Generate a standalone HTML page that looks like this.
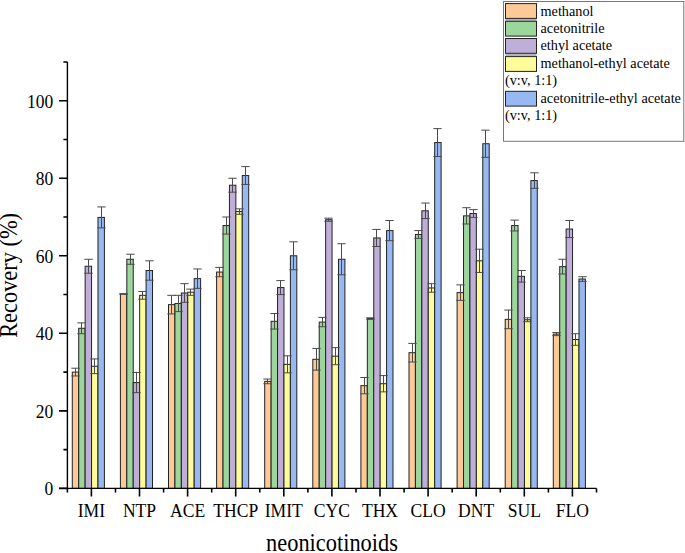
<!DOCTYPE html><html><head><meta charset="utf-8"><style>html,body{margin:0;padding:0;background:#fff;}svg{display:block;}text{font-family:"Liberation Serif",serif;fill:#000;}</style></head><body>
<svg width="685" height="553" viewBox="0 0 685 553">
<rect width="685" height="553" fill="#fff"/>
<rect x="72.30" y="372.09" width="6.42" height="116.31" fill="#FCC997" stroke="#222" stroke-width="1"/>
<rect x="78.72" y="328.28" width="6.42" height="160.12" fill="#9DD69C" stroke="#222" stroke-width="1"/>
<rect x="85.14" y="266.25" width="6.42" height="222.15" fill="#BFAED8" stroke="#222" stroke-width="1"/>
<rect x="91.56" y="366.27" width="6.42" height="122.13" fill="#FEFB9A" stroke="#222" stroke-width="1"/>
<rect x="97.98" y="217.40" width="6.42" height="271.00" fill="#98B8F2" stroke="#222" stroke-width="1"/>
<rect x="120.40" y="293.97" width="6.42" height="194.43" fill="#FCC997" stroke="#222" stroke-width="1"/>
<rect x="126.82" y="259.27" width="6.42" height="229.13" fill="#9DD69C" stroke="#222" stroke-width="1"/>
<rect x="133.24" y="382.56" width="6.42" height="105.84" fill="#BFAED8" stroke="#222" stroke-width="1"/>
<rect x="139.66" y="295.33" width="6.42" height="193.07" fill="#FEFB9A" stroke="#222" stroke-width="1"/>
<rect x="146.08" y="270.51" width="6.42" height="217.89" fill="#98B8F2" stroke="#222" stroke-width="1"/>
<rect x="168.50" y="304.63" width="6.42" height="183.77" fill="#FCC997" stroke="#222" stroke-width="1"/>
<rect x="174.92" y="303.47" width="6.42" height="184.93" fill="#9DD69C" stroke="#222" stroke-width="1"/>
<rect x="181.34" y="293.00" width="6.42" height="195.40" fill="#BFAED8" stroke="#222" stroke-width="1"/>
<rect x="187.76" y="292.22" width="6.42" height="196.18" fill="#FEFB9A" stroke="#222" stroke-width="1"/>
<rect x="194.18" y="278.65" width="6.42" height="209.75" fill="#98B8F2" stroke="#222" stroke-width="1"/>
<rect x="216.60" y="272.06" width="6.42" height="216.34" fill="#FCC997" stroke="#222" stroke-width="1"/>
<rect x="223.02" y="225.54" width="6.42" height="262.86" fill="#9DD69C" stroke="#222" stroke-width="1"/>
<rect x="229.44" y="185.22" width="6.42" height="303.18" fill="#BFAED8" stroke="#222" stroke-width="1"/>
<rect x="235.86" y="211.58" width="6.42" height="276.82" fill="#FEFB9A" stroke="#222" stroke-width="1"/>
<rect x="242.28" y="175.53" width="6.42" height="312.87" fill="#98B8F2" stroke="#222" stroke-width="1"/>
<rect x="264.70" y="381.39" width="6.42" height="107.01" fill="#FCC997" stroke="#222" stroke-width="1"/>
<rect x="271.12" y="321.30" width="6.42" height="167.10" fill="#9DD69C" stroke="#222" stroke-width="1"/>
<rect x="277.54" y="287.57" width="6.42" height="200.83" fill="#BFAED8" stroke="#222" stroke-width="1"/>
<rect x="283.96" y="364.34" width="6.42" height="124.06" fill="#FEFB9A" stroke="#222" stroke-width="1"/>
<rect x="290.38" y="255.78" width="6.42" height="232.62" fill="#98B8F2" stroke="#222" stroke-width="1"/>
<rect x="312.80" y="359.30" width="6.42" height="129.10" fill="#FCC997" stroke="#222" stroke-width="1"/>
<rect x="319.22" y="322.08" width="6.42" height="166.32" fill="#9DD69C" stroke="#222" stroke-width="1"/>
<rect x="325.64" y="219.72" width="6.42" height="268.68" fill="#BFAED8" stroke="#222" stroke-width="1"/>
<rect x="332.06" y="356.19" width="6.42" height="132.21" fill="#FEFB9A" stroke="#222" stroke-width="1"/>
<rect x="338.48" y="259.27" width="6.42" height="229.13" fill="#98B8F2" stroke="#222" stroke-width="1"/>
<rect x="360.90" y="385.66" width="6.42" height="102.74" fill="#FCC997" stroke="#222" stroke-width="1"/>
<rect x="367.32" y="318.59" width="6.42" height="169.81" fill="#9DD69C" stroke="#222" stroke-width="1"/>
<rect x="373.74" y="237.95" width="6.42" height="250.45" fill="#BFAED8" stroke="#222" stroke-width="1"/>
<rect x="380.16" y="383.72" width="6.42" height="104.68" fill="#FEFB9A" stroke="#222" stroke-width="1"/>
<rect x="386.58" y="230.58" width="6.42" height="257.82" fill="#98B8F2" stroke="#222" stroke-width="1"/>
<rect x="409.00" y="352.70" width="6.42" height="135.69" fill="#FCC997" stroke="#222" stroke-width="1"/>
<rect x="415.42" y="234.46" width="6.42" height="253.94" fill="#9DD69C" stroke="#222" stroke-width="1"/>
<rect x="421.84" y="210.81" width="6.42" height="277.59" fill="#BFAED8" stroke="#222" stroke-width="1"/>
<rect x="428.26" y="287.96" width="6.42" height="200.44" fill="#FEFB9A" stroke="#222" stroke-width="1"/>
<rect x="434.68" y="142.57" width="6.42" height="345.83" fill="#98B8F2" stroke="#222" stroke-width="1"/>
<rect x="457.10" y="292.61" width="6.42" height="195.79" fill="#FCC997" stroke="#222" stroke-width="1"/>
<rect x="463.52" y="215.85" width="6.42" height="272.55" fill="#9DD69C" stroke="#222" stroke-width="1"/>
<rect x="469.94" y="213.52" width="6.42" height="274.88" fill="#BFAED8" stroke="#222" stroke-width="1"/>
<rect x="476.36" y="260.82" width="6.42" height="227.58" fill="#FEFB9A" stroke="#222" stroke-width="1"/>
<rect x="482.78" y="143.73" width="6.42" height="344.67" fill="#98B8F2" stroke="#222" stroke-width="1"/>
<rect x="505.20" y="319.36" width="6.42" height="169.04" fill="#FCC997" stroke="#222" stroke-width="1"/>
<rect x="511.62" y="225.54" width="6.42" height="262.86" fill="#9DD69C" stroke="#222" stroke-width="1"/>
<rect x="518.04" y="276.33" width="6.42" height="212.07" fill="#BFAED8" stroke="#222" stroke-width="1"/>
<rect x="524.46" y="319.75" width="6.42" height="168.65" fill="#FEFB9A" stroke="#222" stroke-width="1"/>
<rect x="530.88" y="180.57" width="6.42" height="307.83" fill="#98B8F2" stroke="#222" stroke-width="1"/>
<rect x="553.30" y="334.10" width="6.42" height="154.30" fill="#FCC997" stroke="#222" stroke-width="1"/>
<rect x="559.72" y="266.64" width="6.42" height="221.76" fill="#9DD69C" stroke="#222" stroke-width="1"/>
<rect x="566.14" y="229.03" width="6.42" height="259.37" fill="#BFAED8" stroke="#222" stroke-width="1"/>
<rect x="572.56" y="339.52" width="6.42" height="148.88" fill="#FEFB9A" stroke="#222" stroke-width="1"/>
<rect x="578.98" y="279.04" width="6.42" height="209.36" fill="#98B8F2" stroke="#222" stroke-width="1"/>
<path d="M75.50 368.21V375.97M71.30 368.21H79.70M71.30 375.97H79.70" stroke="#4a4a4a" stroke-width="1" fill="none"/>
<path d="M81.50 322.85V333.71M77.30 322.85H85.70M77.30 333.71H85.70" stroke="#4a4a4a" stroke-width="1" fill="none"/>
<path d="M88.50 259.27V273.23M84.30 259.27H92.70M84.30 273.23H92.70" stroke="#4a4a4a" stroke-width="1" fill="none"/>
<path d="M94.50 358.91V373.64M90.30 358.91H98.70M90.30 373.64H98.70" stroke="#4a4a4a" stroke-width="1" fill="none"/>
<path d="M101.50 206.93V227.87M97.30 206.93H105.70M97.30 227.87H105.70" stroke="#4a4a4a" stroke-width="1" fill="none"/>
<path d="M123.50 293.97V293.97M119.30 293.97H127.70M119.30 293.97H127.70" stroke="#4a4a4a" stroke-width="1" fill="none"/>
<path d="M130.50 254.23V264.31M126.30 254.23H134.70M126.30 264.31H134.70" stroke="#4a4a4a" stroke-width="1" fill="none"/>
<path d="M136.50 372.48V392.64M132.30 372.48H140.70M132.30 392.64H140.70" stroke="#4a4a4a" stroke-width="1" fill="none"/>
<path d="M142.50 291.45V299.20M138.30 291.45H146.70M138.30 299.20H146.70" stroke="#4a4a4a" stroke-width="1" fill="none"/>
<path d="M149.50 260.82V280.21M145.30 260.82H153.70M145.30 280.21H153.70" stroke="#4a4a4a" stroke-width="1" fill="none"/>
<path d="M171.50 295.33V313.93M167.30 295.33H175.70M167.30 313.93H175.70" stroke="#4a4a4a" stroke-width="1" fill="none"/>
<path d="M178.50 295.33V311.61M174.30 295.33H182.70M174.30 311.61H182.70" stroke="#4a4a4a" stroke-width="1" fill="none"/>
<path d="M184.50 283.69V302.30M180.30 283.69H188.70M180.30 302.30H188.70" stroke="#4a4a4a" stroke-width="1" fill="none"/>
<path d="M190.50 289.12V295.33M186.30 289.12H194.70M186.30 295.33H194.70" stroke="#4a4a4a" stroke-width="1" fill="none"/>
<path d="M197.50 268.96V288.35M193.30 268.96H201.70M193.30 288.35H201.70" stroke="#4a4a4a" stroke-width="1" fill="none"/>
<path d="M219.50 267.41V276.72M215.30 267.41H223.70M215.30 276.72H223.70" stroke="#4a4a4a" stroke-width="1" fill="none"/>
<path d="M226.50 217.01V234.07M222.30 217.01H230.70M222.30 234.07H230.70" stroke="#4a4a4a" stroke-width="1" fill="none"/>
<path d="M232.50 178.24V192.20M228.30 178.24H236.70M228.30 192.20H236.70" stroke="#4a4a4a" stroke-width="1" fill="none"/>
<path d="M239.50 208.87V214.30M235.30 208.87H243.70M235.30 214.30H243.70" stroke="#4a4a4a" stroke-width="1" fill="none"/>
<path d="M245.50 166.61V184.44M241.30 166.61H249.70M241.30 184.44H249.70" stroke="#4a4a4a" stroke-width="1" fill="none"/>
<path d="M267.50 379.07V383.72M263.30 379.07H271.70M263.30 383.72H271.70" stroke="#4a4a4a" stroke-width="1" fill="none"/>
<path d="M274.50 313.55V329.06M270.30 313.55H278.70M270.30 329.06H278.70" stroke="#4a4a4a" stroke-width="1" fill="none"/>
<path d="M280.50 280.59V294.55M276.30 280.59H284.70M276.30 294.55H284.70" stroke="#4a4a4a" stroke-width="1" fill="none"/>
<path d="M287.50 355.81V372.87M283.30 355.81H291.70M283.30 372.87H291.70" stroke="#4a4a4a" stroke-width="1" fill="none"/>
<path d="M293.50 241.82V269.74M289.30 241.82H297.70M289.30 269.74H297.70" stroke="#4a4a4a" stroke-width="1" fill="none"/>
<path d="M316.50 348.44V370.15M312.30 348.44H320.70M312.30 370.15H320.70" stroke="#4a4a4a" stroke-width="1" fill="none"/>
<path d="M322.50 317.42V326.73M318.30 317.42H326.70M318.30 326.73H326.70" stroke="#4a4a4a" stroke-width="1" fill="none"/>
<path d="M328.50 218.17V221.27M324.30 218.17H332.70M324.30 221.27H332.70" stroke="#4a4a4a" stroke-width="1" fill="none"/>
<path d="M335.50 347.66V364.72M331.30 347.66H339.70M331.30 364.72H339.70" stroke="#4a4a4a" stroke-width="1" fill="none"/>
<path d="M341.50 243.76V274.78M337.30 243.76H345.70M337.30 274.78H345.70" stroke="#4a4a4a" stroke-width="1" fill="none"/>
<path d="M364.50 377.52V393.80M360.30 377.52H368.70M360.30 393.80H368.70" stroke="#4a4a4a" stroke-width="1" fill="none"/>
<path d="M370.50 317.81V319.36M366.30 317.81H374.70M366.30 319.36H374.70" stroke="#4a4a4a" stroke-width="1" fill="none"/>
<path d="M376.50 229.42V246.48M372.30 229.42H380.70M372.30 246.48H380.70" stroke="#4a4a4a" stroke-width="1" fill="none"/>
<path d="M383.50 375.58V391.86M379.30 375.58H387.70M379.30 391.86H387.70" stroke="#4a4a4a" stroke-width="1" fill="none"/>
<path d="M389.50 220.50V240.66M385.30 220.50H393.70M385.30 240.66H393.70" stroke="#4a4a4a" stroke-width="1" fill="none"/>
<path d="M412.50 343.40V362.01M408.30 343.40H416.70M408.30 362.01H416.70" stroke="#4a4a4a" stroke-width="1" fill="none"/>
<path d="M418.50 230.58V238.33M414.30 230.58H422.70M414.30 238.33H422.70" stroke="#4a4a4a" stroke-width="1" fill="none"/>
<path d="M425.50 203.05V218.56M421.30 203.05H429.70M421.30 218.56H429.70" stroke="#4a4a4a" stroke-width="1" fill="none"/>
<path d="M431.50 283.69V292.22M427.30 283.69H435.70M427.30 292.22H435.70" stroke="#4a4a4a" stroke-width="1" fill="none"/>
<path d="M437.50 128.61V156.53M433.30 128.61H441.70M433.30 156.53H441.70" stroke="#4a4a4a" stroke-width="1" fill="none"/>
<path d="M460.50 284.86V300.37M456.30 284.86H464.70M456.30 300.37H464.70" stroke="#4a4a4a" stroke-width="1" fill="none"/>
<path d="M466.50 207.71V223.99M462.30 207.71H470.70M462.30 223.99H470.70" stroke="#4a4a4a" stroke-width="1" fill="none"/>
<path d="M473.50 209.64V217.40M469.30 209.64H477.70M469.30 217.40H477.70" stroke="#4a4a4a" stroke-width="1" fill="none"/>
<path d="M479.50 249.19V272.45M475.30 249.19H483.70M475.30 272.45H483.70" stroke="#4a4a4a" stroke-width="1" fill="none"/>
<path d="M485.50 130.17V157.30M481.30 130.17H489.70M481.30 157.30H489.70" stroke="#4a4a4a" stroke-width="1" fill="none"/>
<path d="M508.50 310.06V328.67M504.30 310.06H512.70M504.30 328.67H512.70" stroke="#4a4a4a" stroke-width="1" fill="none"/>
<path d="M514.50 220.11V230.97M510.30 220.11H518.70M510.30 230.97H518.70" stroke="#4a4a4a" stroke-width="1" fill="none"/>
<path d="M521.50 270.51V282.14M517.30 270.51H525.70M517.30 282.14H525.70" stroke="#4a4a4a" stroke-width="1" fill="none"/>
<path d="M527.50 317.81V321.69M523.30 317.81H531.70M523.30 321.69H531.70" stroke="#4a4a4a" stroke-width="1" fill="none"/>
<path d="M534.50 172.81V188.32M530.30 172.81H538.70M530.30 188.32H538.70" stroke="#4a4a4a" stroke-width="1" fill="none"/>
<path d="M556.50 332.54V335.65M552.30 332.54H560.70M552.30 335.65H560.70" stroke="#4a4a4a" stroke-width="1" fill="none"/>
<path d="M562.50 259.27V274.00M558.30 259.27H566.70M558.30 274.00H566.70" stroke="#4a4a4a" stroke-width="1" fill="none"/>
<path d="M569.50 220.50V237.56M565.30 220.50H573.70M565.30 237.56H573.70" stroke="#4a4a4a" stroke-width="1" fill="none"/>
<path d="M575.50 333.71V345.34M571.30 333.71H579.70M571.30 345.34H579.70" stroke="#4a4a4a" stroke-width="1" fill="none"/>
<path d="M582.50 276.72V281.37M578.30 276.72H586.70M578.30 281.37H586.70" stroke="#4a4a4a" stroke-width="1" fill="none"/>
<path d="M67.4 61.93V488.4M59 488.4H596.5" stroke="#000" stroke-width="1.4" fill="none"/>
<path d="M59.00 488.40H67.4M63.40 449.63H67.4M59.00 410.86H67.4M63.40 372.09H67.4M59.00 333.32H67.4M63.40 294.55H67.4M59.00 255.78H67.4M63.40 217.01H67.4M59.00 178.24H67.4M63.40 139.47H67.4M59.00 100.70H67.4M63.40 61.93H67.4" stroke="#000" stroke-width="1.6" fill="none"/>
<path d="M67.40 488.4V492.4M115.50 488.4V492.4M163.60 488.4V492.4M211.70 488.4V492.4M259.80 488.4V492.4M307.90 488.4V492.4M356.00 488.4V492.4M404.10 488.4V492.4M452.20 488.4V492.4M500.30 488.4V492.4M548.40 488.4V492.4M596.50 488.4V492.4M91.40 488.4V496.4M139.50 488.4V496.4M187.60 488.4V496.4M235.70 488.4V496.4M283.80 488.4V496.4M331.90 488.4V496.4M380.00 488.4V496.4M428.10 488.4V496.4M476.20 488.4V496.4M524.30 488.4V496.4M572.40 488.4V496.4" stroke="#000" stroke-width="1.6" fill="none"/>
<text transform="translate(53.3 495.40) scale(1 1.07)" font-size="17.5" text-anchor="end">0</text>
<text transform="translate(53.3 417.86) scale(1 1.07)" font-size="17.5" text-anchor="end">20</text>
<text transform="translate(53.3 340.32) scale(1 1.07)" font-size="17.5" text-anchor="end">40</text>
<text transform="translate(53.3 262.78) scale(1 1.07)" font-size="17.5" text-anchor="end">60</text>
<text transform="translate(53.3 185.24) scale(1 1.07)" font-size="17.5" text-anchor="end">80</text>
<text transform="translate(53.3 107.70) scale(1 1.07)" font-size="17.5" text-anchor="end">100</text>
<text transform="translate(91.40 516.8) scale(1 1.1)" font-size="17.6" text-anchor="middle">IMI</text>
<text transform="translate(139.50 516.8) scale(1 1.1)" font-size="17.6" text-anchor="middle">NTP</text>
<text transform="translate(187.60 516.8) scale(1 1.1)" font-size="17.6" text-anchor="middle">ACE</text>
<text transform="translate(235.70 516.8) scale(1 1.1)" font-size="17.6" text-anchor="middle">THCP</text>
<text transform="translate(283.80 516.8) scale(1 1.1)" font-size="17.6" text-anchor="middle">IMIT</text>
<text transform="translate(331.90 516.8) scale(1 1.1)" font-size="17.6" text-anchor="middle">CYC</text>
<text transform="translate(380.00 516.8) scale(1 1.1)" font-size="17.6" text-anchor="middle">THX</text>
<text transform="translate(428.10 516.8) scale(1 1.1)" font-size="17.6" text-anchor="middle">CLO</text>
<text transform="translate(476.20 516.8) scale(1 1.1)" font-size="17.6" text-anchor="middle">DNT</text>
<text transform="translate(524.30 516.8) scale(1 1.1)" font-size="17.6" text-anchor="middle">SUL</text>
<text transform="translate(572.40 516.8) scale(1 1.1)" font-size="17.6" text-anchor="middle">FLO</text>
<text transform="translate(332 551.3) scale(1 1.08)" font-size="22.4" text-anchor="middle">neonicotinoids</text>
<text transform="translate(17.1 275.4) rotate(-90) scale(1 1.08)" font-size="22.4" text-anchor="middle">Recovery (%)</text>
<rect x="503.5" y="1.5" width="180.3" height="139.8" fill="#fff" stroke="#777" stroke-width="1"/>
<rect x="505.5" y="19" width="31" height="2" fill="#b4b4b4"/>
<rect x="505.5" y="54" width="31" height="2" fill="#b4b4b4"/>
<rect x="505.5" y="3.60" width="31" height="14.8" fill="#FCC997" stroke="#222" stroke-width="1"/>
<text x="540.5" y="15.80" font-size="14.25">methanol</text>
<rect x="505.5" y="21.30" width="31" height="14.8" fill="#9DD69C" stroke="#222" stroke-width="1"/>
<text x="540.5" y="32.70" font-size="14.25">acetonitrile</text>
<rect x="505.5" y="38.50" width="31" height="14.8" fill="#BFAED8" stroke="#222" stroke-width="1"/>
<text x="540.5" y="50.30" font-size="14.25">ethyl acetate</text>
<rect x="505.5" y="56.60" width="31" height="14.8" fill="#FEFB9A" stroke="#222" stroke-width="1"/>
<text x="540.5" y="67.70" font-size="14.25">methanol-ethyl acetate</text>
<text x="505" y="84.80" font-size="14.25">(v:v, 1:1)</text>
<rect x="505.5" y="91.30" width="31" height="14.8" fill="#98B8F2" stroke="#222" stroke-width="1"/>
<text x="540.5" y="102.70" font-size="14.25">acetonitrile-ethyl acetate</text>
<text x="505" y="120.20" font-size="14.25">(v:v, 1:1)</text>
</svg></body></html>
